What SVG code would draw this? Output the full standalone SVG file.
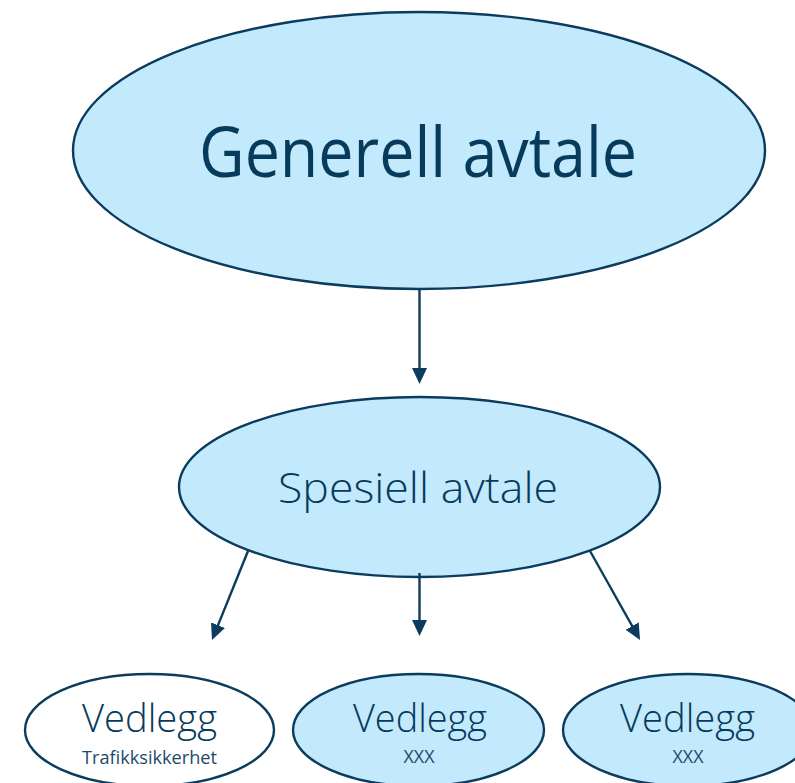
<svg xmlns="http://www.w3.org/2000/svg" width="795" height="783" viewBox="0 0 795 783">
  <defs>
    <marker id="arrow" viewBox="0 0 16 15" refX="8" refY="7.5" markerWidth="16" markerHeight="15" markerUnits="userSpaceOnUse" orient="auto">
      <path d="M0,0 L16,7.5 L0,15 z" fill="#0B3C5D"/>
    </marker>
  </defs>
  <style>
    .node { fill: #C3E9FC; stroke: #0B3C5D; stroke-width: 2.4; }
    .white { fill: #FFFFFF; }
    .label { font-family: "Open Sans", "Noto Sans", sans-serif; fill: #073B5C; text-anchor: middle; }
    .big { font-size: 70px; font-weight: 500; }
    .mid { font-size: 43px; font-weight: 350; }
    .ved { font-size: 39px; font-weight: 350; }
    .sub { font-size: 18px; font-weight: 400; fill: #1D4A6A; }
    .conn { stroke: #0B3C5D; stroke-width: 2.4; fill: none; marker-end: url(#arrow); }
  </style>
  <rect width="795" height="783" fill="#FFFFFF"/>
  <g id="node-generell">
    <ellipse class="node" cx="419" cy="150.5" rx="346" ry="138.5"/>
    <text class="label big" x="418" y="177" textLength="438" lengthAdjust="spacingAndGlyphs">Generell avtale</text>
  </g>
  <g id="node-spesiell">
    <ellipse class="node" cx="419.5" cy="487" rx="240.5" ry="90"/>
    <text class="label mid" x="418" y="503" textLength="280" lengthAdjust="spacingAndGlyphs">Spesiell avtale</text>
  </g>
  <g id="node-vedlegg-1">
    <ellipse class="node white" cx="149.5" cy="730" rx="124.5" ry="56"/>
    <text class="label ved" x="149.5" y="732" textLength="135" lengthAdjust="spacingAndGlyphs">Vedlegg</text>
    <text class="label sub" x="149.5" y="764" textLength="135" lengthAdjust="spacingAndGlyphs">Trafikksikkerhet</text>
  </g>
  <g id="node-vedlegg-2">
    <ellipse class="node" cx="418.5" cy="730" rx="125.5" ry="56"/>
    <text class="label ved" x="420" y="732" textLength="134" lengthAdjust="spacingAndGlyphs">Vedlegg</text>
    <text class="label sub" x="419" y="763" textLength="31" lengthAdjust="spacingAndGlyphs">XXX</text>
  </g>
  <g id="node-vedlegg-3">
    <ellipse class="node" cx="688" cy="730" rx="125" ry="56"/>
    <text class="label ved" x="687.5" y="732" textLength="135" lengthAdjust="spacingAndGlyphs">Vedlegg</text>
    <text class="label sub" x="688" y="763" textLength="31" lengthAdjust="spacingAndGlyphs">XXX</text>
  </g>
  <g id="connectors">
    <line class="conn" x1="419.5" y1="289" x2="419.5" y2="376"/>
    <line class="conn" x1="248" y1="551" x2="215" y2="632.6"/>
    <line class="conn" x1="419.5" y1="573" x2="419.5" y2="628"/>
    <line class="conn" x1="590" y1="551" x2="636.1" y2="633"/>
  </g>
</svg>
